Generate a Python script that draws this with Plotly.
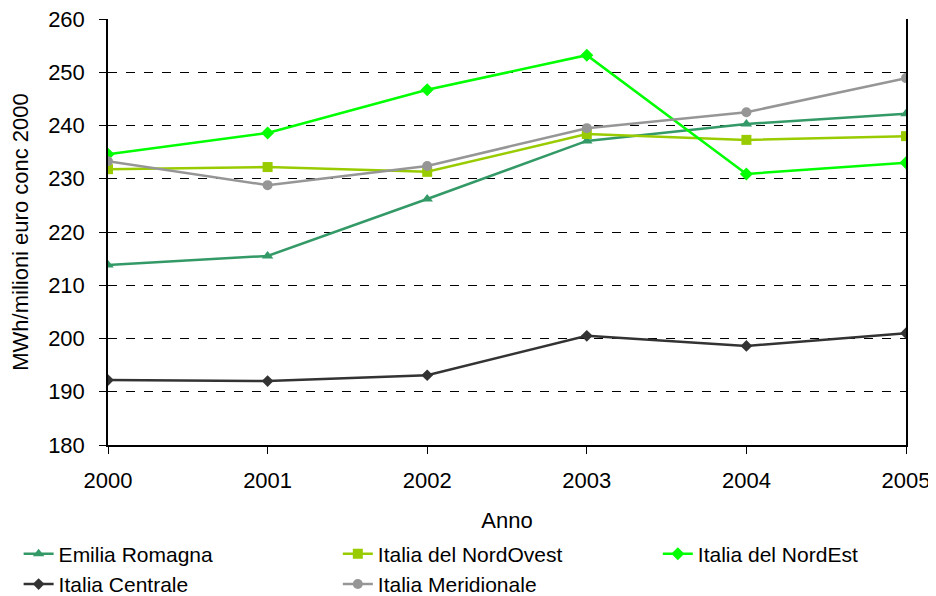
import plotly.graph_objects as go

# ---------------- Dati ----------------
anni = ["2000", "2001", "2002", "2003", "2004", "2005"]
emilia_romagna = [213.8, 215.5, 226.2, 237.1, 240.3, 242.2]
nord_ovest = [231.8, 232.2, 231.3, 238.4, 237.3, 238.0]
nord_est = [234.6, 238.6, 246.7, 253.2, 230.9, 233.0]
centrale = [192.2, 192.0, 193.1, 200.5, 198.6, 201.0]
meridionale = [233.3, 228.8, 232.4, 239.5, 242.5, 248.9]

# (nome, valori, colore, simbolo, dimensione, colonna legenda)
serie = [
    ("Emilia Romagna", emilia_romagna, "#339966", "triangle-up", 10, "legend"),
    ("Italia del NordOvest", nord_ovest, "#99CC00", "square", 10, "legend2"),
    ("Italia del NordEst", nord_est, "#00FF00", "diamond", 10, "legend3"),
    ("Italia Centrale", centrale, "#333333", "diamond", 9, "legend"),
    ("Italia Meridionale", meridionale, "#969696", "circle", 10, "legend2"),
]

FONT = "Liberation Sans, Arial, sans-serif"

fig = go.Figure()
for nome, valori, colore, simbolo, dim, leg in serie:
    fig.add_trace(go.Scatter(
        x=anni, y=valori, name=nome, mode="lines+markers",
        line=dict(color=colore, width=2.5),
        marker=dict(symbol=simbolo, size=dim, color=colore),
        legend=leg,
    ))

def legenda(x):
    return dict(
        orientation="v", x=x, xanchor="left", y=-0.208, yanchor="top",
        font=dict(family=FONT, size=21), tracegroupgap=0,
        bgcolor="rgba(0,0,0,0)",
    )

# la pagina ha 8px di margine del body: i margini qui sotto ne tengono conto;
# la figura è più alta della finestra così la legenda non spinge i margini
fig.update_layout(
    width=944, height=624,
    margin=dict(l=97, r=46, t=11, b=187),
    plot_bgcolor="white", paper_bgcolor="white",
    font=dict(family=FONT, size=22, color="black"),
    showlegend=True,
    legend=legenda(-0.112),
    legend2=legenda(0.288),
    legend3=legenda(0.689),
    xaxis=dict(
        title=dict(text="Anno", standoff=20, font=dict(size=22)),
        type="category", range=[0, 5], showgrid=False,
        showline=True, linecolor="black", linewidth=1.5,
        ticks="outside", ticklen=7, tickcolor="black",
        tickfont=dict(size=22), ticklabelstandoff=8,
        ticklabeloverflow="allow", automargin=False,
    ),
    yaxis=dict(
        title=dict(text="MWh/milioni euro conc 2000", standoff=13, font=dict(size=22)),
        range=[180, 260], dtick=10,
        showgrid=True, gridcolor="black", griddash="dash", gridwidth=1,
        showline=True, linecolor="black", linewidth=1.5, mirror=True,
        ticks="outside", ticklen=7, tickcolor="black",
        tickfont=dict(size=22), ticklabelstandoff=10,
        ticklabeloverflow="allow", automargin=False,
        zeroline=False,
    ),
)

# niente barre di scorrimento: la figura sborda di poco oltre la finestra
fig.write_html("out.html", post_script="document.body.style.overflow='hidden';")
